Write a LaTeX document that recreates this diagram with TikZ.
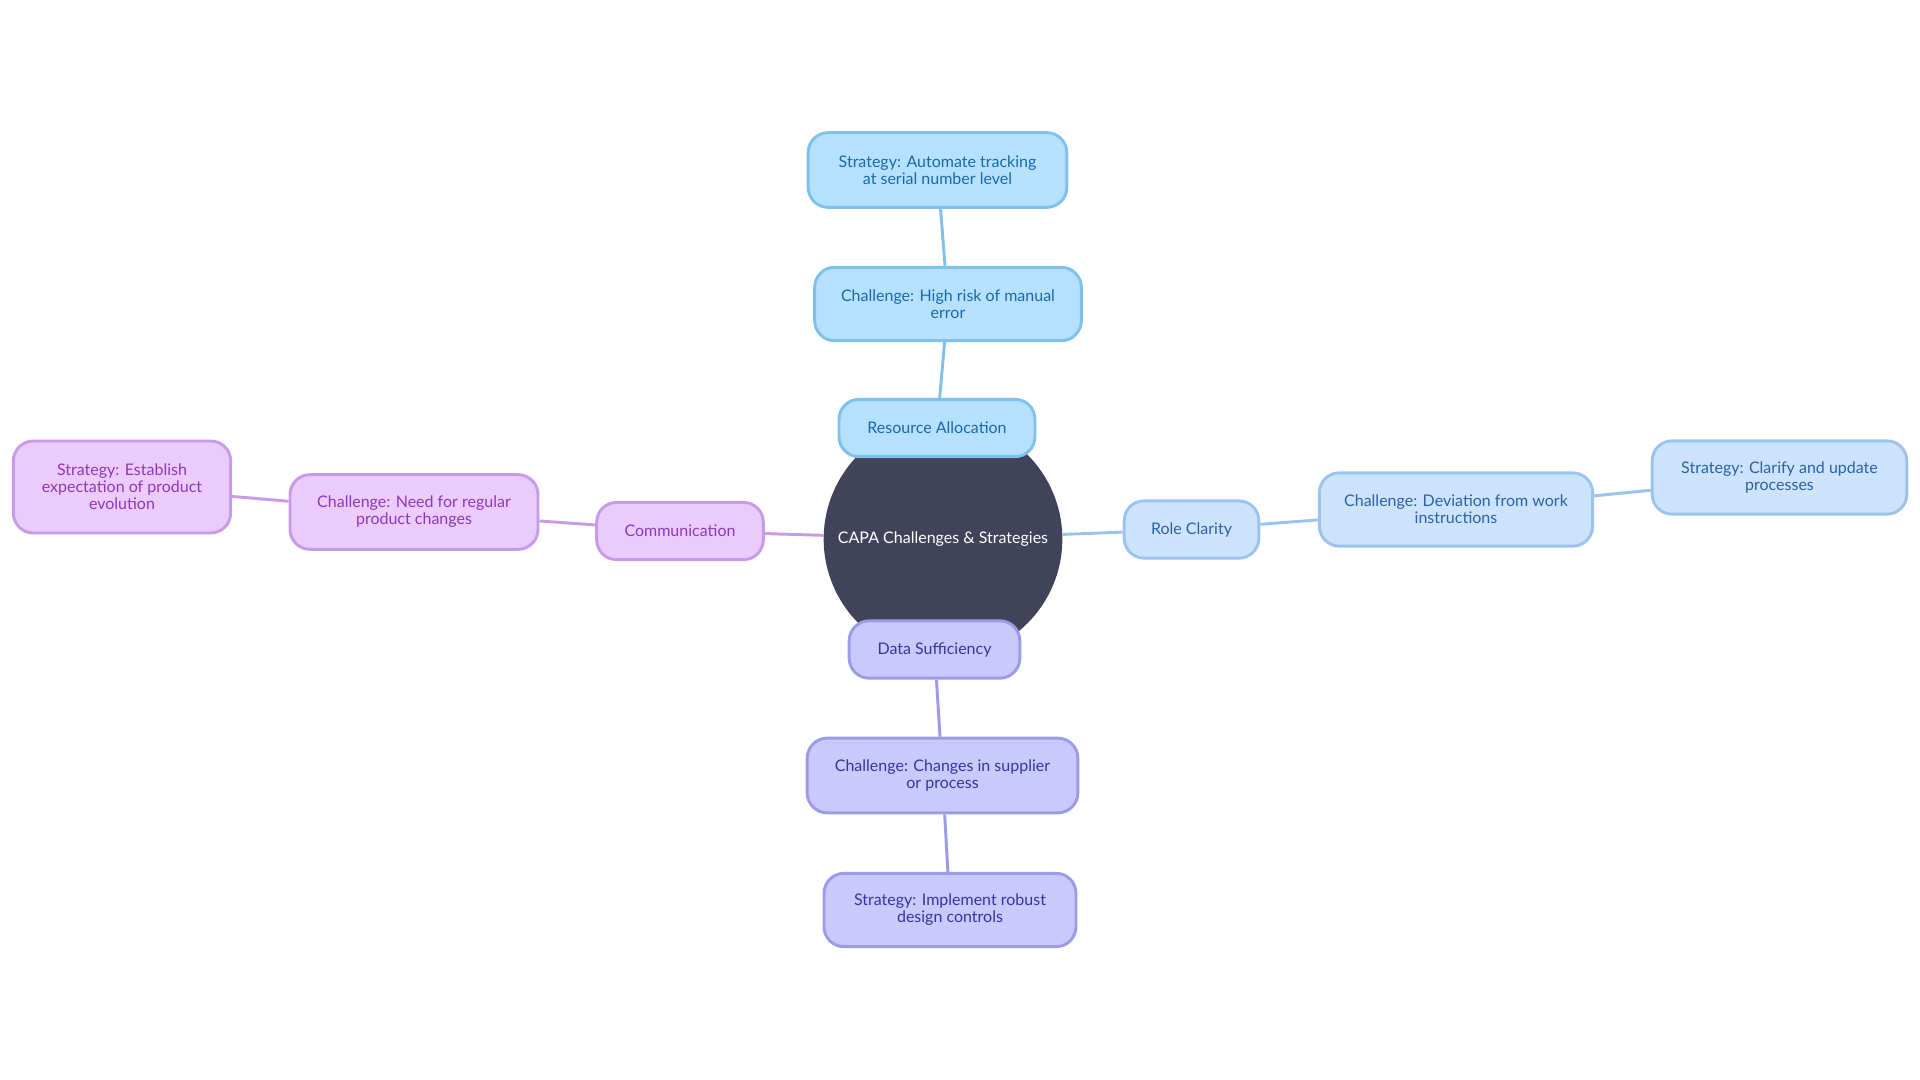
\documentclass[tikz,border=0pt]{standalone}
\usepackage{fontspec}
\setmainfont{Lato}
\usepackage{tikz}
\usetikzlibrary{positioning}

\definecolor{hubfill}{HTML}{40435A}
\definecolor{rafill}{HTML}{B5E1FE}
\definecolor{radraw}{HTML}{80C0EC}
\definecolor{ratext}{HTML}{1A68A8}
\definecolor{rcfill}{HTML}{CDE3FB}
\definecolor{rcdraw}{HTML}{9CC3EE}
\definecolor{rctext}{HTML}{2A62A8}
\definecolor{dsfill}{HTML}{C9C9FD}
\definecolor{dsdraw}{HTML}{9B9BE8}
\definecolor{dstext}{HTML}{3535A0}
\definecolor{cmfill}{HTML}{EBCBFC}
\definecolor{cmdraw}{HTML}{C89BE8}
\definecolor{cmtext}{HTML}{8E38B8}

\tikzset{
  box/.style={rectangle, rounded corners=15pt, line width=2.2pt, align=center,
    inner sep=2pt, font=\fontsize{12}{12.75}\selectfont},
  rabox/.style={box, fill=rafill, draw=radraw, text=ratext},
  rcbox/.style={box, fill=rcfill, draw=rcdraw, text=rctext},
  dsbox/.style={box, fill=dsfill, draw=dsdraw, text=dstext},
  cmbox/.style={box, fill=cmfill, draw=cmdraw, text=cmtext},
  link/.style={line width=2.2pt}
}

\begin{document}
\begin{tikzpicture}[x=0.75pt, y=-0.75pt]
  \useasboundingbox (0,0) rectangle (1920,1080);

  % hub
  \node[circle, fill=hubfill, text=white, minimum size=179pt, inner sep=0pt,
    font=\fontsize{12}{12.75}\selectfont] (hub) at (943,539) {CAPA Challenges \& Strategies};

  % resource allocation branch
  \node[rabox, minimum width=147pt, minimum height=43pt] (res) at (937,428) {Resource Allocation};
  \node[rabox, minimum width=200pt, minimum height=55pt] (resC) at (948,304) {Challenge: High risk of manual\\error};
  \node[rabox, minimum width=194pt, minimum height=56pt] (resS) at (937.5,170) {Strategy: Automate tracking\\at serial number level};
  \draw[link, radraw] (res) -- (resC);
  \draw[link, radraw] (resC) -- (resS);

  % role clarity branch
  \node[rcbox, minimum width=101pt, minimum height=43pt] (role) at (1191.5,529.5) {Role Clarity};
  \node[rcbox, minimum width=205pt, minimum height=55pt] (roleC) at (1456,509.5) {Challenge: Deviation from work\\instructions};
  \node[rcbox, minimum width=191pt, minimum height=55pt] (roleS) at (1779.5,477.5) {Strategy: Clarify and update\\processes};
  \draw[link, rcdraw] (hub) -- (role);
  \draw[link, rcdraw] (role) -- (roleC);
  \draw[link, rcdraw] (roleC) -- (roleS);

  % data sufficiency branch
  \node[dsbox, minimum width=128pt, minimum height=43pt] (data) at (934.5,649.5) {Data Sufficiency};
  \node[dsbox, minimum width=203pt, minimum height=56pt] (dataC) at (942.5,775.5) {Challenge: Changes in supplier\\or process};
  \node[dsbox, minimum width=189pt, minimum height=55pt] (dataS) at (950,910) {Strategy: Implement robust\\design controls};
  \draw[link, dsdraw] (data) -- (dataC);
  \draw[link, dsdraw] (dataC) -- (dataS);

  % communication branch
  \node[cmbox, minimum width=125pt, minimum height=43pt] (comm) at (680,531) {Communication};
  \node[cmbox, minimum width=186pt, minimum height=56pt] (commC) at (414,512) {Challenge: Need for regular\\product changes};
  \node[cmbox, minimum width=163pt, minimum height=69pt] (commS) at (122,487) {Strategy: Establish\\expectation of product\\evolution};
  \draw[link, cmdraw] (hub) -- (comm);
  \draw[link, cmdraw] (comm) -- (commC);
  \draw[link, cmdraw] (commC) -- (commS);
\end{tikzpicture}
\end{document}
